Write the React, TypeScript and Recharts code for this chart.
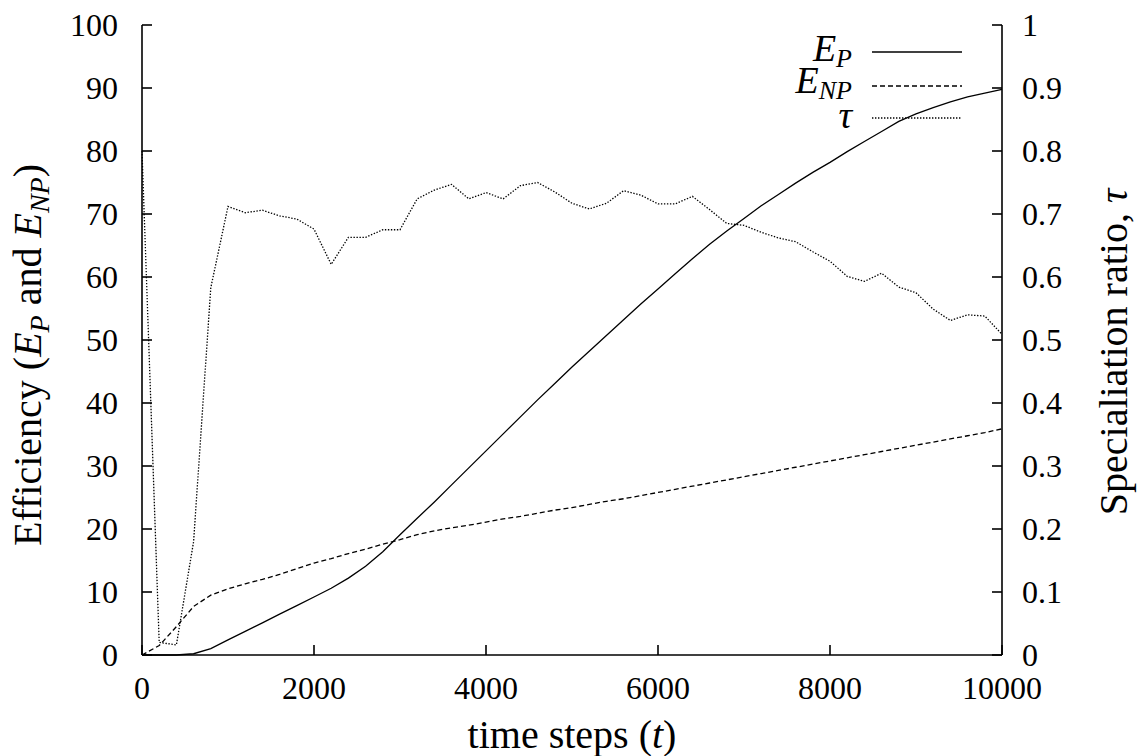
import { Legend, Line, LineChart, XAxis, YAxis } from 'recharts'

const FONT = '"Liberation Serif", "DejaVu Serif", serif'

// time steps (t), sampled every 200 steps
const steps = [
  0, 200, 400, 600, 800, 1000, 1200, 1400, 1600, 1800, 2000, 2200, 2400, 2600, 2800, 3000, 3200,
  3400, 3600, 3800, 4000, 4200, 4400, 4600, 4800, 5000, 5200, 5400, 5600, 5800, 6000, 6200, 6400,
  6600, 6800, 7000, 7200, 7400, 7600, 7800, 8000, 8200, 8400, 8600, 8800, 9000, 9200, 9400, 9600,
  9800, 10000,
]

// E_P, efficiency (left axis)
const effP = [
  0, 0, 0, 0.2, 1.0, 2.4, 3.75, 5.1, 6.5, 7.85, 9.2, 10.6, 12.2, 14.1, 16.4, 19.1, 21.7, 24.3, 27.0,
  29.7, 32.4, 35.1, 37.8, 40.5, 43.1, 45.7, 48.2, 50.7, 53.2, 55.7, 58.1, 60.5, 62.9, 65.2, 67.3,
  69.3, 71.3, 73.1, 74.9, 76.6, 78.2, 79.9, 81.5, 83.1, 84.7, 85.9, 86.9, 87.8, 88.6, 89.2, 89.8,
]

// E_NP, efficiency (left axis)
const effNP = [
  0, 1.5, 4.5, 7.7, 9.5, 10.5, 11.3, 12.0, 12.8, 13.7, 14.6, 15.3, 16.1, 16.8, 17.6, 18.3, 19.1,
  19.7, 20.2, 20.6, 21.1, 21.6, 22.0, 22.5, 23.0, 23.4, 23.9, 24.4, 24.8, 25.3, 25.8, 26.3, 26.8,
  27.3, 27.8, 28.3, 28.8, 29.3, 29.8, 30.3, 30.8, 31.3, 31.8, 32.3, 32.8, 33.3, 33.8, 34.3, 34.8,
  35.3, 35.9,
]

// tau, specialisation ratio (right axis)
const tau = [
  0.8, 0.02, 0.016, 0.18, 0.583, 0.712, 0.702, 0.706, 0.697, 0.692, 0.676, 0.62, 0.663, 0.663,
  0.675, 0.675, 0.724, 0.738, 0.747, 0.724, 0.734, 0.724, 0.745, 0.75, 0.735, 0.717, 0.708, 0.717,
  0.737, 0.73, 0.716, 0.716, 0.728, 0.707, 0.685, 0.682, 0.671, 0.662, 0.656, 0.64, 0.625, 0.601,
  0.593, 0.606, 0.584, 0.575, 0.549, 0.531, 0.54, 0.538, 0.509,
]

const xTicks = [0, 2000, 4000, 6000, 8000, 10000]
const leftTicks = [0, 10, 20, 30, 40, 50, 60, 70, 80, 90, 100]
const rightTicks = [0, 0.1, 0.2, 0.3, 0.4, 0.5, 0.6, 0.7, 0.8, 0.9, 1]

const data = steps.map((t, i) => ({ t, ep: effP[i], enp: effNP[i], tau: tau[i] }))

const DASH_NP = '5 3'
const DOT_TAU = '1.4 1.6'
const axisStroke = { stroke: '#000', strokeWidth: 1.6 }
const tickFont = { fontFamily: FONT, fontSize: 32, fill: '#000' }
const TITLE_SIZE = 40

const sub = (s: string, size = 28, dy = 8) => (
  <tspan fontStyle="italic" fontSize={size} dy={dy}>
    {s}
  </tspan>
)

function LeftTitle() {
  return (
    <text
      x={41}
      y={355}
      transform="rotate(-90, 41, 355)"
      textAnchor="middle"
      fontFamily={FONT}
      fontSize={TITLE_SIZE}
      fill="#000"
    >
      Efficiency (<tspan fontStyle="italic">E</tspan>
      {sub('P')}
      <tspan dy={-8}> and </tspan>
      <tspan fontStyle="italic">E</tspan>
      {sub('NP')}
      <tspan dy={-8}>)</tspan>
    </text>
  )
}

function RightTitle() {
  return (
    <text
      x={1127}
      y={352}
      transform="rotate(-90, 1127, 352)"
      textAnchor="middle"
      fontFamily={FONT}
      fontSize={TITLE_SIZE}
      fill="#000"
    >
      Specialiation ratio, <tspan fontStyle="italic">τ</tspan>
    </text>
  )
}

function BottomTitle() {
  return (
    <text x={572} y={748} textAnchor="middle" fontFamily={FONT} fontSize={TITLE_SIZE} fill="#000">
      time steps (<tspan fontStyle="italic">t</tspan>)
    </text>
  )
}

function KeyBox() {
  return (
    <svg width={1138} height={140} style={{ fontFamily: FONT }}>
      <text x={852} y={61} textAnchor="end" fontSize={38}>
        <tspan fontStyle="italic">E</tspan>
        {sub('P', 26, 6)}
      </text>
      <line x1={872} x2={962} y1={52} y2={52} stroke="#000" strokeWidth={1.3} />
      <text x={852} y={93} textAnchor="end" fontSize={38}>
        <tspan fontStyle="italic">E</tspan>
        {sub('NP', 26, 6)}
      </text>
      <line x1={872} x2={962} y1={86} y2={86} stroke="#000" strokeWidth={1.3} strokeDasharray={DASH_NP} />
      <text x={852} y={128} textAnchor="end" fontSize={38} fontStyle="italic">
        τ
      </text>
      <line x1={872} x2={962} y1={118} y2={118} stroke="#000" strokeWidth={1.3} strokeDasharray={DOT_TAU} />
    </svg>
  )
}

export default function App() {
  return (
    <div style={{ position: 'absolute', left: 0, top: 0, width: 1138, height: 756, background: '#fff' }}>
      <LineChart
        width={1138}
        height={756}
        data={data}
        margin={{ top: 25, right: 0, bottom: 0, left: 0 }}
        style={{ fontFamily: FONT }}
      >
        <XAxis
          xAxisId="bottom"
          dataKey="t"
          type="number"
          domain={[0, 10000]}
          ticks={xTicks}
          interval={0}
          height={101}
          axisLine={axisStroke}
          tickLine={axisStroke}
          tickSize={-10}
          tickMargin={31}
          tick={tickFont}
          label={<BottomTitle />}
        />
        <XAxis
          xAxisId="top"
          orientation="top"
          dataKey="t"
          type="number"
          domain={[0, 10000]}
          ticks={xTicks}
          interval={0}
          height={0}
          axisLine={axisStroke}
          tickLine={axisStroke}
          tickSize={-10}
          tick={false}
        />
        <YAxis
          yAxisId="left"
          type="number"
          domain={[0, 100]}
          ticks={leftTicks}
          interval={0}
          width={142}
          axisLine={axisStroke}
          tickLine={axisStroke}
          tickSize={-10}
          tickMargin={34}
          tick={tickFont}
          label={<LeftTitle />}
        />
        <YAxis
          yAxisId="right"
          orientation="right"
          type="number"
          domain={[0, 1]}
          ticks={rightTicks}
          interval={0}
          width={136}
          axisLine={axisStroke}
          tickLine={axisStroke}
          tickSize={-10}
          tickMargin={30}
          tick={tickFont}
          tickFormatter={(v) => String(Number(Number(v).toFixed(1)))}
          label={<RightTitle />}
        />
        <Legend
          layout="horizontal"
          verticalAlign="middle"
          wrapperStyle={{ position: 'absolute', left: 0, top: 0, width: 1138, height: 140 }}
          content={() => <KeyBox />}
        />
        <Line
          xAxisId="bottom"
          yAxisId="left"
          type="linear"
          dataKey="ep"
          stroke="#000"
          strokeWidth={1.3}
          dot={false}
          isAnimationActive={false}
        />
        <Line
          xAxisId="bottom"
          yAxisId="left"
          type="linear"
          dataKey="enp"
          stroke="#000"
          strokeWidth={1.3}
          strokeDasharray={DASH_NP}
          dot={false}
          isAnimationActive={false}
        />
        <Line
          xAxisId="bottom"
          yAxisId="right"
          type="linear"
          dataKey="tau"
          stroke="#000"
          strokeWidth={1.3}
          strokeDasharray={DOT_TAU}
          dot={false}
          isAnimationActive={false}
        />
      </LineChart>
    </div>
  )
}
